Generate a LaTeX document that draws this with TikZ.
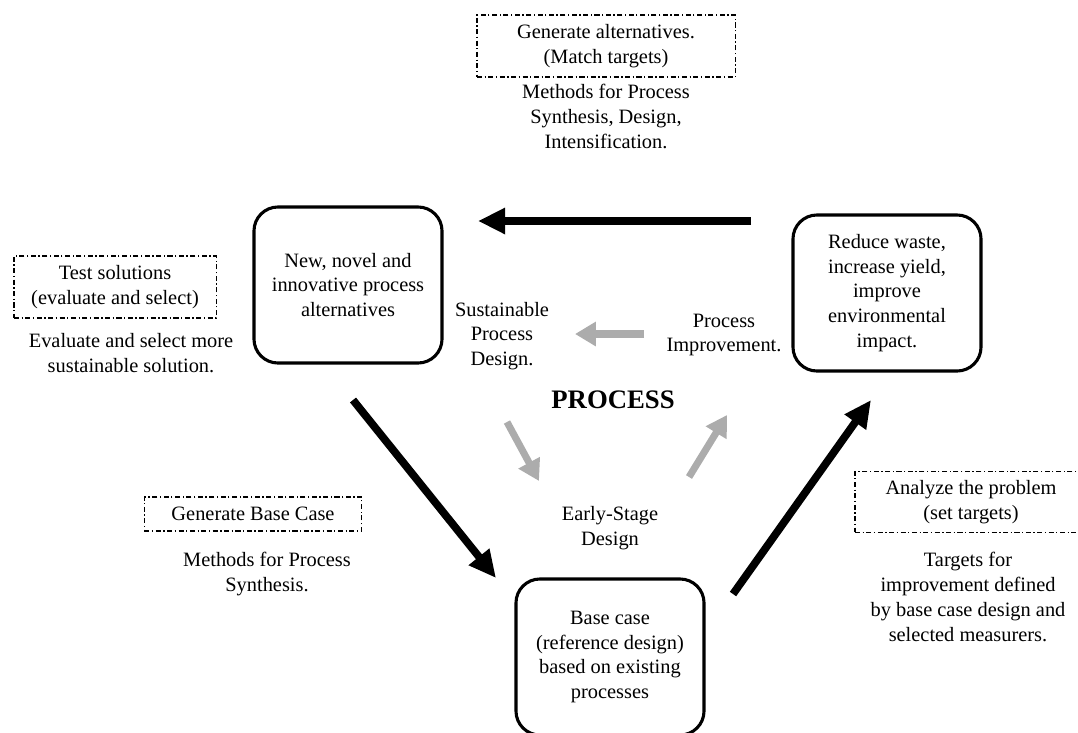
\documentclass[tikz,border=0pt]{standalone}
\usepackage{fontspec}
\setmainfont{Liberation Serif}
\usetikzlibrary{arrows.meta,positioning}

\begin{document}
\begin{tikzpicture}[x=0.025cm,y=-0.025cm,
    every node/.style={align=center,font=\fontsize{14.5}{17.6}\selectfont},
    stage/.style={draw,line width=2.2pt,rounded corners=0.6cm,minimum width=4.7cm,minimum height=3.9cm,inner sep=0pt},
    task/.style={draw,line width=0.75pt,dash pattern=on 3.6pt off 1.8pt on 0.9pt off 1.8pt,inner sep=0pt},
    cycle/.style={line width=5.5pt,-{Triangle[length=0.68cm,width=0.62cm]}},
    inner/.style={line width=5pt,gray!65,-{Triangle[length=0.52cm,width=0.58cm]}}]
  \useasboundingbox (0,0) rectangle (1078,732);

  % the three stages
  \begin{scope}
    \node[stage] (newalt) at (348,285) {New, novel and\\innovative process\\alternatives};
    \node[stage] (reduce) at (887,293) {Reduce waste,\\increase yield,\\improve\\environmental\\impact.};
    \node[stage] (base) at (610,657) {Base case\\(reference design)\\based on existing\\processes};
  \end{scope}

  % what is done at each step
  \begin{scope}
    \node[task,minimum width=6.45cm,minimum height=1.55cm] (genalt) at (606,46) {Generate alternatives.\\(Match targets)};
    \node (genaltm) [below=0.05cm of genalt] {Methods for Process\\Synthesis, Design,\\Intensification.};
    \node[task,minimum width=5.05cm,minimum height=1.55cm] (test) at (115,287) {Test solutions\\(evaluate and select)};
    \node (testm) at (131,353) {Evaluate and select more\\sustainable solution.};
    \node[task,minimum width=5.43cm,minimum height=0.85cm] (genbase) at (253,514) {Generate Base Case};
    \node (genbasem) at (267,574) {Methods for Process\\Synthesis.};
    \node[task,minimum width=5.8cm,minimum height=1.52cm] (analyze) at (971,502) {Analyze the problem\\(set targets)};
    \node (analyzem) at (968,597) {Targets for\\improvement defined\\by base case design and\\selected measurers.};
  \end{scope}

  % centre of the cycle
  \begin{scope}
    \node[font=\fontsize{19}{22}\selectfont\bfseries] (proc) at (613,400) {PROCESS};
    \node (sust) at (502,336) {Sustainable\\Process\\Design.};
    \node (impr) at (724,335) {Process\\Improvement.};
    \node (early) at (610,528) {Early-Stage\\Design};
  \end{scope}

  \coordinate (topa) at (751,221);
  \coordinate (topb) at (478,221);
  \coordinate (lefta) at (353,400);
  \coordinate (leftb) at (496,578);
  \coordinate (righta) at (733,594);
  \coordinate (rightb) at (871,400);
  \coordinate (ga) at (644,334);
  \coordinate (gb) at (575,334);
  \coordinate (gc) at (507,422);
  \coordinate (gd) at (539,481);
  \coordinate (ge) at (689,477);
  \coordinate (gf) at (727,415);

  \begin{scope}
    \path (topa) edge[cycle] (topb);
    \path (lefta) edge[cycle] (leftb);
    \path (righta) edge[cycle] (rightb);
    \path (ga) edge[inner] (gb);
    \path (gc) edge[inner] (gd);
    \path (ge) edge[inner] (gf);
  \end{scope}
\end{tikzpicture}
\end{document}
